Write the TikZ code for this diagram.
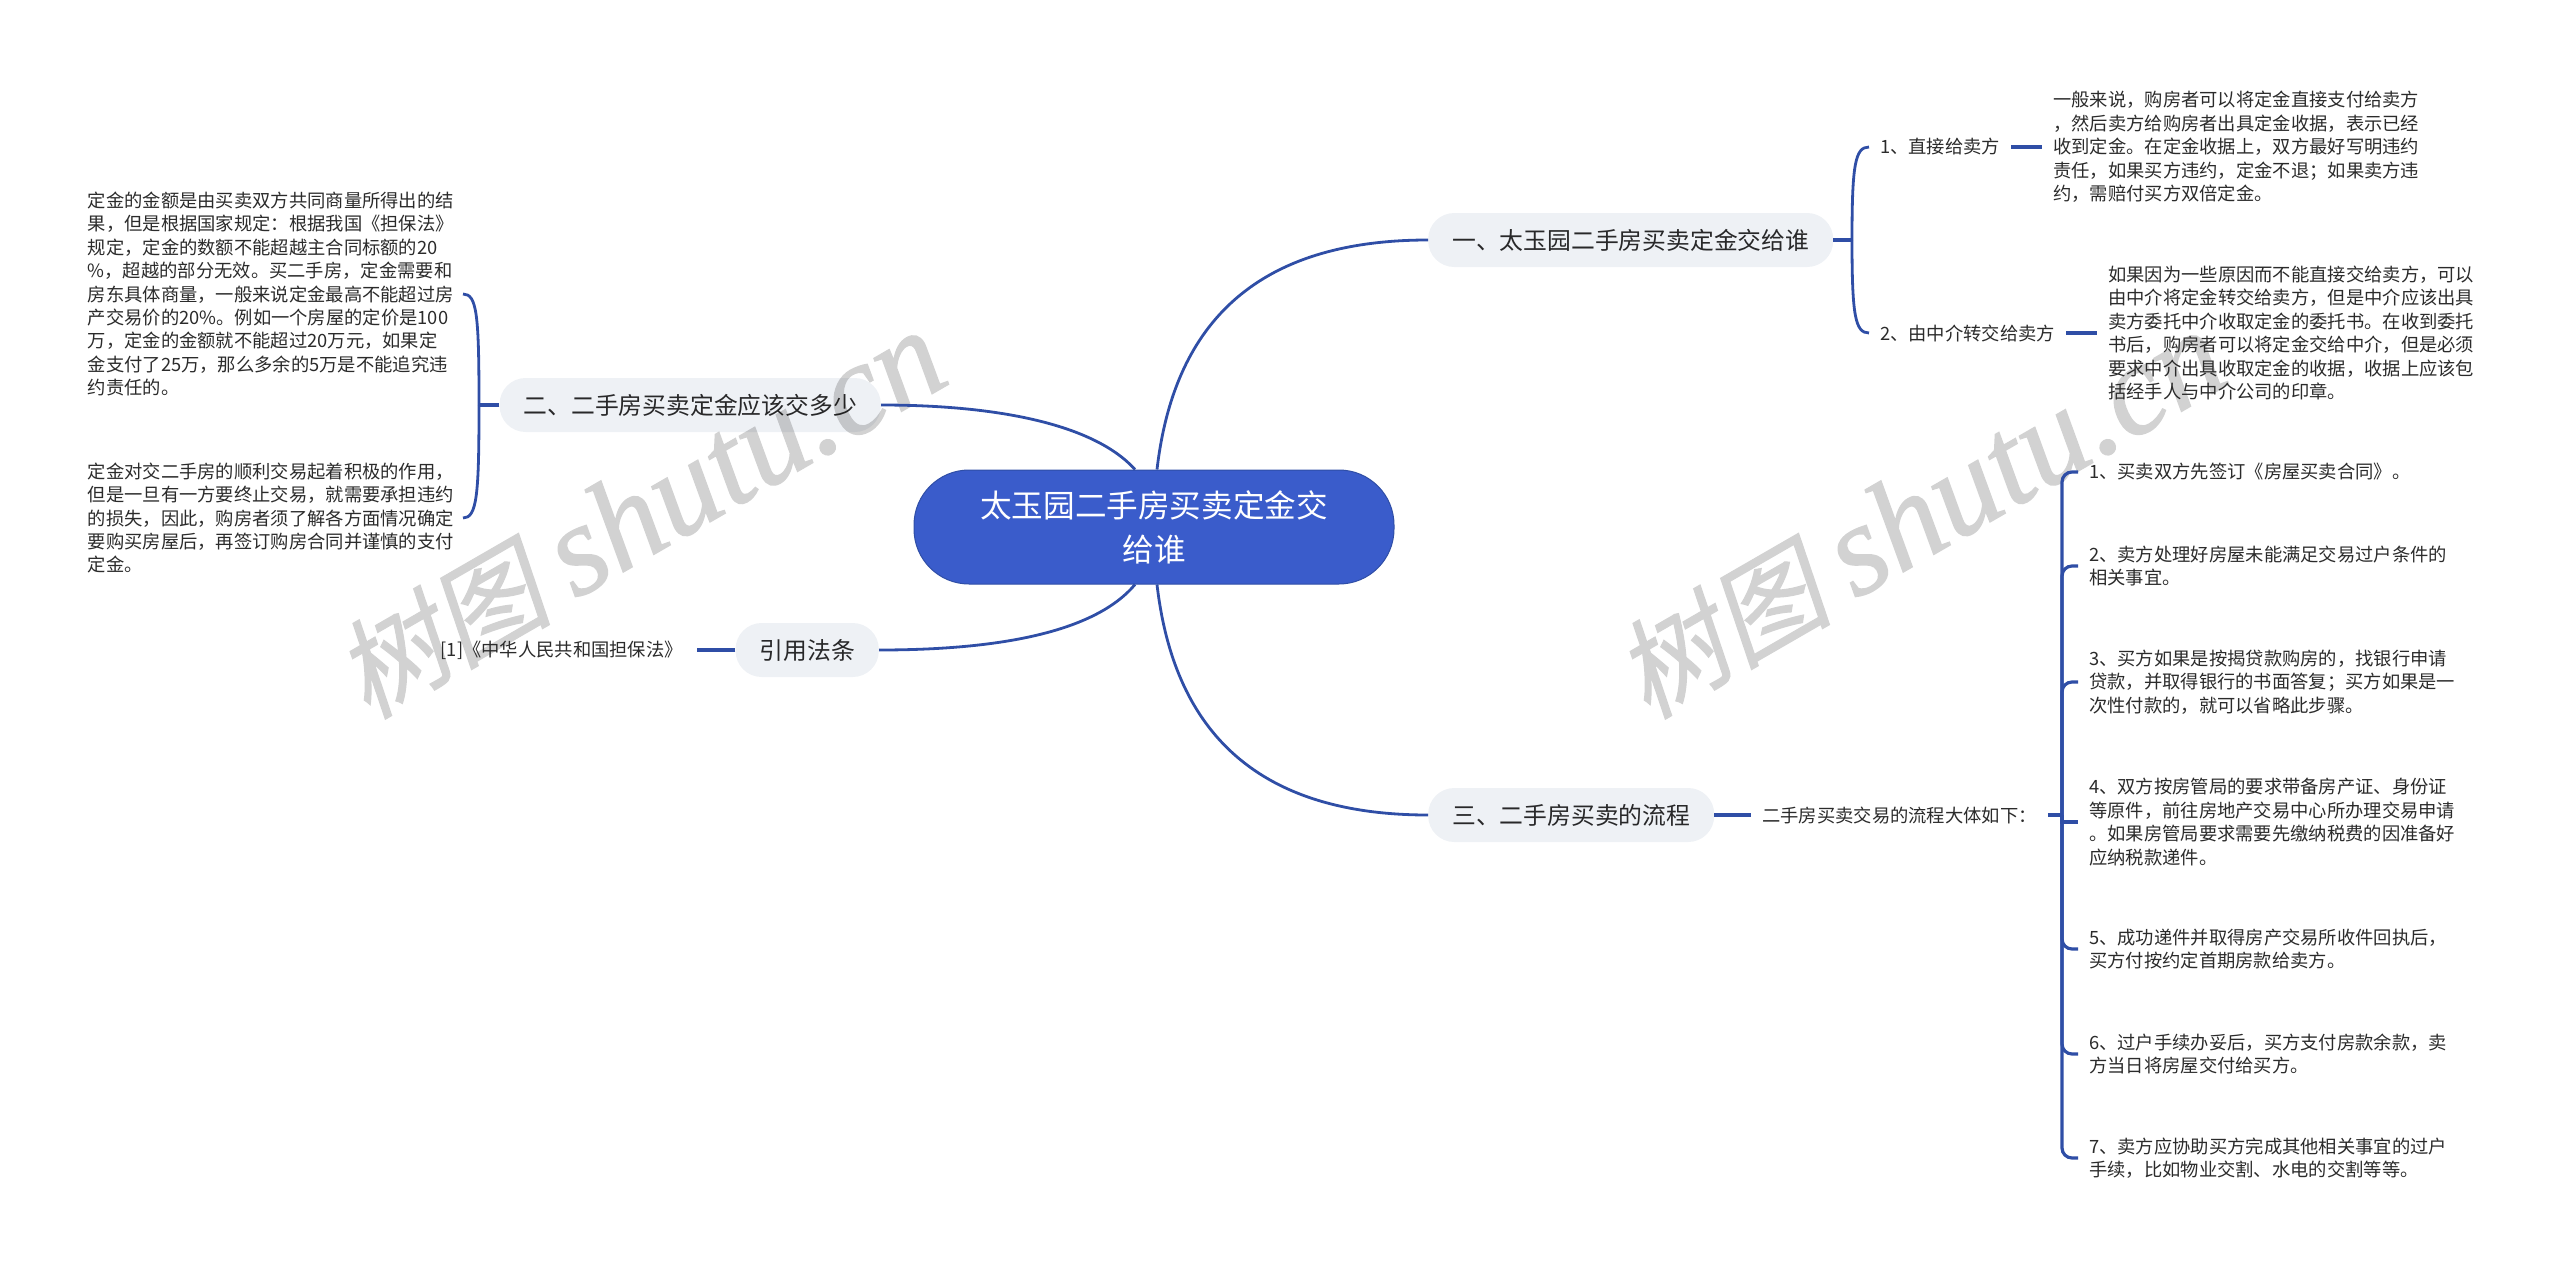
\documentclass[tikz,border=0pt]{standalone}
\usepackage{fontspec}
\setmainfont{Noto Sans CJK SC}
\newfontfamily\wmcjk[FakeSlant=0.2,FakeBold=1]{Noto Sans CJK SC}
\newfontfamily\wmlatin[FakeBold=1]{Liberation Serif}
\definecolor{linkblue}{HTML}{2F4EA6}
\definecolor{rootblue}{HTML}{3A5CCB}
\definecolor{branchgray}{HTML}{EEF1F5}
\definecolor{inkgray}{HTML}{2B2B2B}
\definecolor{markgray}{HTML}{D2D2D2}
\begin{document}
\begin{tikzpicture}[x=1pt,y=-1pt,
    rootbox/.style={rectangle,rounded corners=55pt,fill=rootblue,draw=linkblue,line width=1pt,text=white,minimum width=480pt,minimum height=114pt,align=center,font=\fontsize{31.6}{44}\selectfont},
    branchbox/.style={rectangle,rounded corners=26pt,fill=branchgray,text=inkgray,inner xsep=24pt,inner ysep=0pt,minimum height=54pt,blend mode=multiply,font=\fontsize{23.8}{30}\selectfont},
    leaf/.style={inner xsep=11pt,inner ysep=0pt,align=left,text=inkgray,font=\fontsize{18.3}{23.4}\selectfont},
    curveline/.style={draw=linkblue,line width=2.8pt},
    stubline/.style={draw=linkblue,line width=3.2pt},
    forkline/.style={draw=linkblue,line width=3.2pt,rounded corners=10pt},
    wmark/.style={text=markgray,rotate=30,font=\fontsize{108}{108}\selectfont}]
  \useasboundingbox (0,0) rectangle (2560,1269);

  \node[wmark](wm1) at (640,515){\wmcjk 树图 \wmlatin\fontsize{130}{130}\selectfont\itshape shutu.cn};
  \node[wmark](wm2) at (1920,515){\wmcjk 树图 \wmlatin\fontsize{130}{130}\selectfont\itshape shutu.cn};

  \node[rootbox](root) at (1154,527){太玉园二手房买卖定金交\\给谁};
  \node[branchbox,anchor=west](b1) at (1428,240){一、太玉园二手房买卖定金交给谁};
  \node[branchbox,anchor=east](b2) at (881,405){二、二手房买卖定金应该交多少};
  \node[branchbox,anchor=east](b4) at (879,650){引用法条};
  \node[branchbox,anchor=west](b3) at (1428,815){三、二手房买卖的流程};

  \node[leaf,anchor=west](a1) at (1869,147){1、直接给卖方};
  \node[leaf,anchor=west](a2) at (1869,333){2、由中介转交给卖方};
  \node[leaf,anchor=west](t1) at (2042,147){一般来说，购房者可以将定金直接支付给卖方\\，然后卖方给购房者出具定金收据，表示已经\\收到定金。在定金收据上，双方最好写明违约\\责任，如果买方违约，定金不退；如果卖方违\\约，需赔付买方双倍定金。};
  \node[leaf,anchor=west](t2) at (2097,333){如果因为一些原因而不能直接交给卖方，可以\\由中介将定金转交给卖方，但是中介应该出具\\卖方委托中介收取定金的委托书。在收到委托\\书后，购房者可以将定金交给中介，但是必须\\要求中介出具收取定金的收据，收据上应该包\\括经手人与中介公司的印章。};

  \node[leaf,anchor=east,inner xsep=9pt](c1) at (463,294){定金的金额是由买卖双方共同商量所得出的结\\果，但是根据国家规定：根据我国《担保法》\\规定，定金的数额不能超越主合同标额的20\\\%，超越的部分无效。买二手房，定金需要和\\房东具体商量，一般来说定金最高不能超过房\\产交易价的20\%。例如一个房屋的定价是100\\万，定金的金额就不能超过20万元，如果定\\金支付了25万，那么多余的5万是不能追究违\\约责任的。};
  \node[leaf,anchor=east,inner xsep=9pt](c2) at (463,518){定金对交二手房的顺利交易起着积极的作用，\\但是一旦有一方要终止交易，就需要承担违约\\的损失，因此，购房者须了解各方面情况确定\\要购买房屋后，再签订购房合同并谨慎的支付\\定金。};
  \node[leaf,anchor=east,inner xsep=14pt](law) at (697,650){[1]《中华人民共和国担保法》};

  \node[leaf,anchor=west](m3) at (1751,815){二手房买卖交易的流程大体如下：};
  \node[leaf,anchor=west](s1) at (2078,472){1、买卖双方先签订《房屋买卖合同》。};
  \node[leaf,anchor=west](s2) at (2078,566){2、卖方处理好房屋未能满足交易过户条件的\\相关事宜。};
  \node[leaf,anchor=west](s3) at (2078,682){3、买方如果是按揭贷款购房的，找银行申请\\贷款，并取得银行的书面答复；买方如果是一\\次性付款的，就可以省略此步骤。};
  \node[leaf,anchor=west](s4) at (2078,822){4、双方按房管局的要求带备房产证、身份证\\等原件，前往房地产交易中心所办理交易申请\\。如果房管局要求需要先缴纳税费的因准备好\\应纳税款递件。};
  \node[leaf,anchor=west](s5) at (2078,949){5、成功递件并取得房产交易所收件回执后，\\买方付按约定首期房款给卖方。};
  \node[leaf,anchor=west](s6) at (2078,1054){6、过户手续办妥后，买方支付房款余款，卖\\方当日将房屋交付给买方。};
  \node[leaf,anchor=west](s7) at (2078,1158){7、卖方应协助买方完成其他相关事宜的过户\\手续，比如物业交割、水电的交割等等。};

  \coordinate (j1) at (1852,240);
  \coordinate (j2) at (479,405);
  \coordinate (j3) at (2062,815);

  \draw[curveline] ([xshift=3pt]root.north) .. controls (1172,340) and (1240,240) .. (b1.west);
  \draw[curveline] ([xshift=3pt]root.south) .. controls (1172,714) and (1240,815) .. (b3.west);
  \draw[curveline] ([xshift=-19pt]root.north) .. controls (1095,425) and (1000,405) .. (b2.east);
  \draw[curveline] ([xshift=-19pt]root.south) .. controls (1095,632) and (1000,650) .. (b4.east);

  \draw[stubline] (b1.east) -- (j1);
  \draw[curveline] (j1) .. controls +(0,-75) and +(-14,0) .. (a1.west);
  \draw[curveline] (j1) .. controls +(0,75) and +(-14,0) .. (a2.west);
  \draw[stubline] (a1.east) -- (t1.west);
  \draw[stubline] (a2.east) -- (t2.west);

  \draw[stubline] (b2.west) -- (j2);
  \draw[curveline] (j2) .. controls +(0,-90) and +(14,0) .. (c1.east);
  \draw[curveline] (j2) .. controls +(0,90) and +(14,0) .. (c2.east);

  \draw[stubline] (b4.west) -- (law.east);

  \draw[stubline] (b3.east) -- (m3.west);
  \draw[stubline] (m3.east) -- (j3);
  \draw[forkline] (j3) |- (s1.west);
  \draw[forkline] (j3) |- (s2.west);
  \draw[forkline] (j3) |- (s3.west);
  \draw[stubline] (j3) |- (s4.west);
  \draw[forkline] (j3) |- (s5.west);
  \draw[forkline] (j3) |- (s6.west);
  \draw[forkline] (j3) |- (s7.west);
\end{tikzpicture}
\end{document}
